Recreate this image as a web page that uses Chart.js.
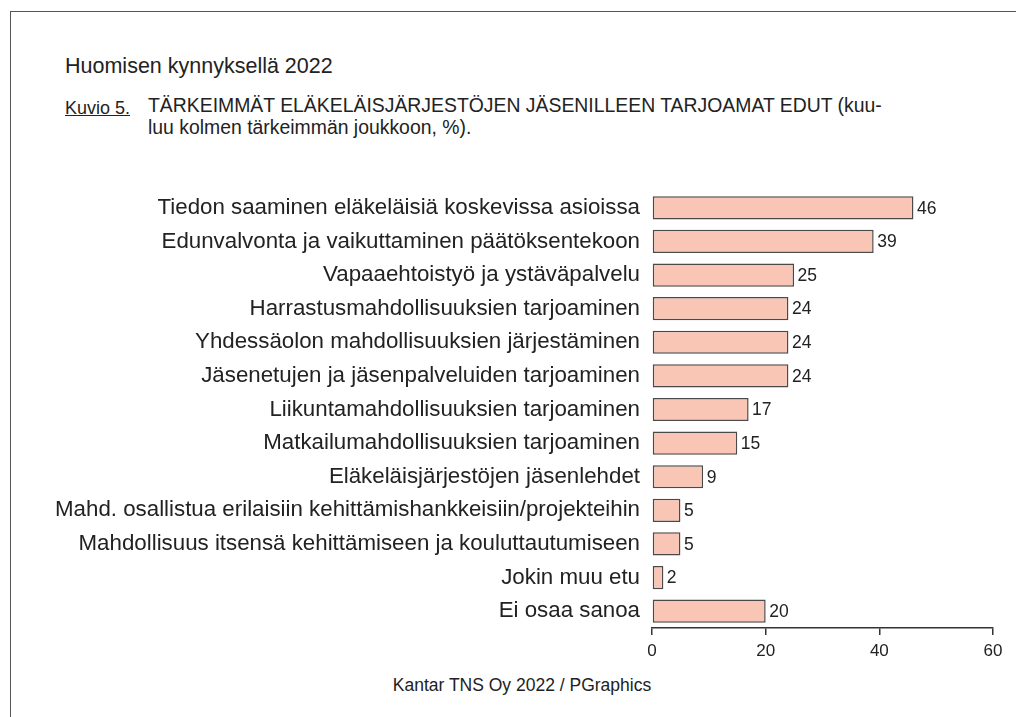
<!DOCTYPE html>
<html>
<head>
<meta charset="utf-8">
<script src="https://cdn.jsdelivr.net/npm/chart.js@4"></script>
<style>
  html, body { margin:0; padding:0; width:1016px; height:717px; overflow:hidden; background:#fff; }
  body { position:relative; font-family:"Liberation Sans", Arial, sans-serif; color:#222; }
  #frame { position:absolute; left:10px; top:11px; width:1100px; height:800px; border:1.5px solid #555; box-sizing:border-box; }
  .t { position:absolute; white-space:nowrap; line-height:1; }
  #wrap { position:absolute; left:0; top:0; width:1016px; height:717px; }
</style>
</head>
<body>
<div id="frame"></div>
<div class="t" id="h1" style="left:65px; top:56px; font-size:21.5px;">Huomisen kynnyksellä 2022</div>
<div class="t" id="kv" style="left:65px; top:99px; font-size:18px; text-decoration:underline;">Kuvio 5.</div>
<div class="t" id="tt" style="left:148px; top:95px; font-size:19.4px; line-height:21.5px;">TÄRKEIMMÄT ELÄKELÄISJÄRJESTÖJEN JÄSENILLEEN TARJOAMAT EDUT (kuu-<br>luu kolmen tärkeimmän joukkoon, %).</div>
<div class="t" id="ft" style="left:522px; top:677px; font-size:17.5px; transform:translateX(-50%);">Kantar TNS Oy 2022 / PGraphics</div>
<div id="wrap"><canvas id="c" width="1016" height="717"></canvas></div>
<script>
const categories = [
  "Tiedon saaminen eläkeläisiä koskevissa asioissa",
  "Edunvalvonta ja vaikuttaminen päätöksentekoon",
  "Vapaaehtoistyö ja ystäväpalvelu",
  "Harrastusmahdollisuuksien tarjoaminen",
  "Yhdessäolon mahdollisuuksien järjestäminen",
  "Jäsenetujen ja jäsenpalveluiden tarjoaminen",
  "Liikuntamahdollisuuksien tarjoaminen",
  "Matkailumahdollisuuksien tarjoaminen",
  "Eläkeläisjärjestöjen jäsenlehdet",
  "Mahd. osallistua erilaisiin kehittämishankkeisiin/projekteihin",
  "Mahdollisuus itsensä kehittämiseen ja kouluttautumiseen",
  "Jokin muu etu",
  "Ei osaa sanoa"
];
const values = [46, 39, 25, 24, 24, 24, 17, 15, 9, 5, 5, 2, 20];
const xTicks = [0, 20, 40, 60];

const FONT = '"Liberation Sans", Arial, sans-serif';

const valueLabels = {
  id: 'valueLabels',
  afterDatasetsDraw(chart) {
    const ctx = chart.ctx;
    const meta = chart.getDatasetMeta(0);
    ctx.save();
    ctx.font = '17.5px ' + FONT;
    ctx.fillStyle = '#222';
    ctx.textAlign = 'left';
    ctx.textBaseline = 'middle';
    meta.data.forEach((bar, i) => {
      ctx.fillText(String(values[i]), bar.x + 3.5, bar.y + 1);
    });
    ctx.restore();
  }
};

new Chart(document.getElementById('c'), {
  type: 'bar',
  data: {
    labels: categories,
    datasets: [{
      data: values,
      backgroundColor: '#F9C5B5',
      borderColor: '#4a4a4a',
      borderWidth: 1.5,
      borderSkipped: false,
      barPercentage: 0.69,
      categoryPercentage: 1.0
    }]
  },
  options: {
    indexAxis: 'y',
    responsive: false,
    animation: false,
    devicePixelRatio: 1,
    layout: { padding: { left: 0, right: 23, top: 191, bottom: 49 } },
    plugins: { legend: { display: false }, tooltip: { enabled: false } },
    scales: {
      y: {
        type: 'category',
        afterFit(scale) { scale.width = 652; },
        grid: { display: false, drawTicks: false },
        border: { display: false },
        ticks: { padding: 12, color: '#222', font: { family: FONT, size: 22.3 }, autoSkip: false }
      },
      x: {
        min: 0, max: 60,
        afterFit(scale) { scale.height = 40; },
        afterBuildTicks(scale) { scale.ticks = xTicks.map(v => ({ value: v })); },
        grid: { display: true, drawOnChartArea: false, drawTicks: true, tickLength: 7, color: '#333', lineWidth: 1.5 },
        border: { display: true, color: '#333', width: 1.5 },
        ticks: { padding: 6, color: '#222', font: { family: FONT, size: 17 }, maxRotation: 0 }
      }
    }
  },
  plugins: [valueLabels]
});
</script>
</body>
</html>
